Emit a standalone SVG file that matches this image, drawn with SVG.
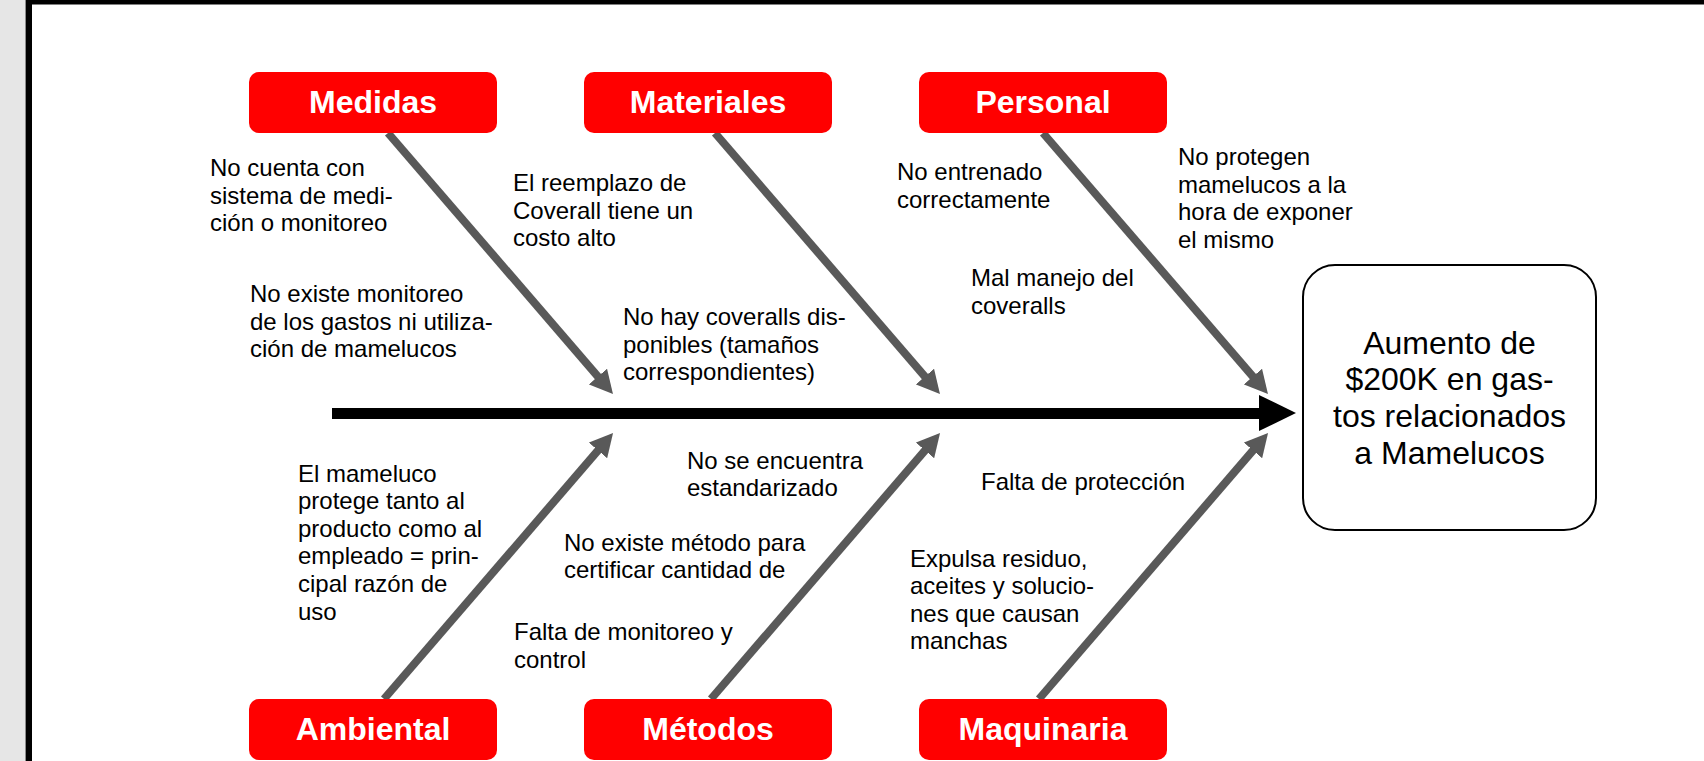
<svg xmlns="http://www.w3.org/2000/svg" width="1704" height="761" viewBox="0 0 1704 761">
  <style>
    .cat rect { fill: #ff0000; }
    .cat text { fill: #ffffff; font-family: "Liberation Sans", Arial, sans-serif; font-weight: bold; font-size: 32px; text-anchor: middle; }
    .lbl { fill: #000000; font-family: "Liberation Sans", Arial, sans-serif; font-size: 24px; }
    .bone { stroke: #595959; stroke-width: 8; fill: none; marker-end: url(#gh); }
    .eff text { fill: #000000; font-family: "Liberation Sans", Arial, sans-serif; font-size: 32px; text-anchor: middle; }
  </style>
  <defs>
    <marker id="gh" markerUnits="userSpaceOnUse" markerWidth="24" markerHeight="24" viewBox="0 0 24 24" refX="1" refY="12" orient="auto">
      <path d="M0,0 L23,12 L0,24 z" fill="#595959"/>
    </marker>
  </defs>

  <!-- background / frame -->
  <rect x="0" y="0" width="1704" height="761" fill="#ffffff"/>
  <rect x="0" y="0" width="26" height="761" fill="#e6e6e6"/>
  <rect x="25" y="0" width="1" height="761" fill="#8c8c8c"/>
  <rect x="26" y="0" width="6" height="761" fill="#000000"/>
  <rect x="26" y="0" width="1678" height="4.5" fill="#000000"/>

  <!-- connectors -->
  <g id="connectors">
    <rect x="332" y="408" width="928" height="11" fill="#000000"/>
    <polygon points="1259,395 1296,413 1259,431" fill="#000000"/>
    <line class="bone" x1="388" y1="133" x2="598.6" y2="377.3"/>
    <line class="bone" x1="715" y1="133" x2="925.6" y2="377.3"/>
    <line class="bone" x1="1043" y1="133" x2="1253.6" y2="377.3"/>
    <line class="bone" x1="384" y1="699" x2="598.7" y2="449.7"/>
    <line class="bone" x1="711" y1="699" x2="925.7" y2="449.7"/>
    <line class="bone" x1="1039" y1="699" x2="1253.7" y2="449.7"/>
  </g>

  <!-- category nodes -->
  <g id="medidas" class="cat">
    <rect x="249" y="72" width="248" height="61" rx="10"/>
    <text x="373" y="112.5">Medidas</text>
  </g>
  <g id="materiales" class="cat">
    <rect x="584" y="72" width="248" height="61" rx="10"/>
    <text x="708" y="112.5">Materiales</text>
  </g>
  <g id="personal" class="cat">
    <rect x="919" y="72" width="248" height="61" rx="10"/>
    <text x="1043" y="112.5">Personal</text>
  </g>
  <g id="ambiental" class="cat">
    <rect x="249" y="699" width="248" height="61" rx="10"/>
    <text x="373" y="739.5">Ambiental</text>
  </g>
  <g id="metodos" class="cat">
    <rect x="584" y="699" width="248" height="61" rx="10"/>
    <text x="708" y="739.5">Métodos</text>
  </g>
  <g id="maquinaria" class="cat">
    <rect x="919" y="699" width="248" height="61" rx="10"/>
    <text x="1043" y="739.5">Maquinaria</text>
  </g>

  <!-- effect node -->
  <g id="efecto" class="eff">
    <rect x="1303" y="265" width="293" height="265" rx="32" fill="#ffffff" stroke="#000000" stroke-width="2"/>
    <text x="1449.5" y="353.5">Aumento de</text>
    <text x="1449.5" y="390.3">$200K en gas-</text>
    <text x="1449.5" y="427.1">tos relacionados</text>
    <text x="1449.5" y="463.9">a Mamelucos</text>
  </g>

  <!-- cause labels -->
  <g id="causas">
    <text id="c1" class="lbl"><tspan x="210" y="176">No cuenta con</tspan><tspan x="210" y="203.6">sistema de medi-</tspan><tspan x="210" y="231.2">ción o monitoreo</tspan></text>
    <text id="c2" class="lbl"><tspan x="513" y="191">El reemplazo de</tspan><tspan x="513" y="218.6">Coverall tiene un</tspan><tspan x="513" y="246.2">costo alto</tspan></text>
    <text id="c3" class="lbl"><tspan x="250" y="302">No existe monitoreo</tspan><tspan x="250" y="329.6">de los gastos ni utiliza-</tspan><tspan x="250" y="357.2">ción de mamelucos</tspan></text>
    <text id="c4" class="lbl"><tspan x="623" y="325">No hay coveralls dis-</tspan><tspan x="623" y="352.6">ponibles (tamaños</tspan><tspan x="623" y="380.2">correspondientes)</tspan></text>
    <text id="c5" class="lbl"><tspan x="897" y="180">No entrenado</tspan><tspan x="897" y="207.6">correctamente</tspan></text>
    <text id="c6" class="lbl"><tspan x="971" y="286">Mal manejo del</tspan><tspan x="971" y="313.6">coveralls</tspan></text>
    <text id="c7" class="lbl"><tspan x="1178" y="165">No protegen</tspan><tspan x="1178" y="192.6">mamelucos a la</tspan><tspan x="1178" y="220.2">hora de exponer</tspan><tspan x="1178" y="247.8">el mismo</tspan></text>
    <text id="c8" class="lbl"><tspan x="298" y="481.5">El mameluco</tspan><tspan x="298" y="509.1">protege tanto al</tspan><tspan x="298" y="536.7">producto como al</tspan><tspan x="298" y="564.3">empleado = prin-</tspan><tspan x="298" y="591.9">cipal razón de</tspan><tspan x="298" y="619.5">uso</tspan></text>
    <text id="c9" class="lbl"><tspan x="687" y="468.5">No se encuentra</tspan><tspan x="687" y="496.1">estandarizado</tspan></text>
    <text id="c10" class="lbl"><tspan x="564" y="550.5">No existe método para</tspan><tspan x="564" y="578.1">certificar cantidad de</tspan></text>
    <text id="c11" class="lbl"><tspan x="514" y="640">Falta de monitoreo y</tspan><tspan x="514" y="667.6">control</tspan></text>
    <text id="c12" class="lbl"><tspan x="981" y="490">Falta de protección</tspan></text>
    <text id="c13" class="lbl"><tspan x="910" y="566.5">Expulsa residuo,</tspan><tspan x="910" y="594.1">aceites y solucio-</tspan><tspan x="910" y="621.7">nes que causan</tspan><tspan x="910" y="649.3">manchas</tspan></text>
  </g>
</svg>
